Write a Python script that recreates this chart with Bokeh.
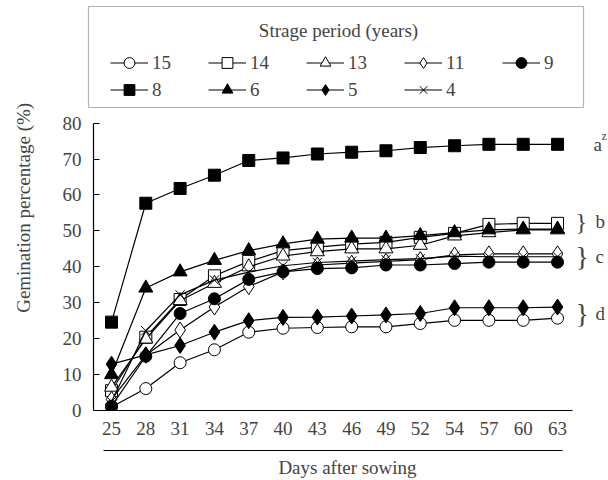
from bokeh.plotting import figure
from bokeh.models import (Legend, LegendItem, Label, BoxAnnotation, LinearAxis,
                          Range1d, FixedTicker)
from bokeh.embed import file_html
from bokeh.resources import INLINE

FONT = "Liberation Serif"

days = ["25", "28", "31", "34", "37", "40", "43", "46", "49", "52", "54", "57", "60", "63"]
y_ticks = [0, 10, 20, 30, 40, 50, 60, 70, 80]

s15 = [1.0, 6.1, 13.3, 16.9, 21.8, 22.9, 23.1, 23.3, 23.3, 24.2, 25.1, 25.1, 25.1, 25.7]
s14 = [5.5, 20.4, 30.9, 37.5, 41.5, 44.5, 45.5, 46.3, 46.8, 48.2, 49.3, 51.8, 52.1, 52.1]
s13 = [6.5, 19.9, 30.6, 35.4, 40.0, 43.0, 44.2, 45.0, 45.0, 46.0, 48.6, 49.5, 50.3, 50.3]
s11 = [3.1, 15.4, 22.4, 28.8, 34.5, 38.6, 40.5, 41.0, 41.5, 42.0, 43.3, 43.6, 43.6, 43.6]
s9 = [1.2, 15.1, 27.0, 31.1, 36.5, 38.6, 39.5, 39.7, 40.5, 40.5, 40.9, 41.3, 41.3, 41.3]
s8 = [24.6, 57.7, 61.8, 65.5, 69.6, 70.3, 71.4, 71.9, 72.3, 73.2, 73.7, 74.1, 74.1, 74.1]
s6 = [10.0, 34.1, 38.6, 41.8, 44.5, 46.4, 47.7, 48.0, 48.0, 48.7, 49.5, 50.3, 50.5, 50.5]
s5 = [12.9, 15.5, 18.1, 21.8, 25.0, 25.9, 26.0, 26.3, 26.6, 27.0, 28.6, 28.6, 28.6, 28.8]
s4 = [2.5, 22.2, 32.2, 36.3, 38.5, 40.3, 41.2, 41.6, 42.0, 42.3, 43.0, 42.8, 42.8, 42.8]

series_names = ["15", "14", "13", "11", "9", "8", "6", "5", "4"]
series_values = [s15, s14, s13, s11, s9, s8, s6, s5, s4]
markers = ["circle", "square", "triangle", "diamond", "circle", "square", "triangle", "diamond", "x"]
fills = ["white", "white", "white", "white", "black", "black", "black", "black", "black"]
sizes = [12, 12, 14, 16, 12, 12, 14, 16, 13]

group_labels = ["a", "b", "c", "d"]
group_y = [74.1, 52.5, 43.0, 27.0]

# positions of the day categories along the axis
xpos = list(range(len(days)))
X_AXIS_AT = -0.5246

p = figure(width=608, height=480,
           x_range=Range1d(-0.7287, 14.486),
           y_range=Range1d(0, 114.13),
           x_axis_type=None,
           output_backend="svg", toolbar_location=None,
           min_border_left=86, min_border_right=0, min_border_top=0, min_border_bottom=62)
p.outline_line_color = None
p.ygrid.grid_line_color = None

items = []
for name, vals, mk, fc, sz in zip(series_names, series_values, markers, fills, sizes):
    rl = p.line(xpos, vals, line_color="black", line_width=1.2)
    rs = p.scatter(xpos, vals, marker=mk, size=sz, fill_color=fc, line_color="black", line_width=1)
    items.append(LegendItem(label=name, renderers=[rl, rs]))

# x axis (tick labels)
xa = LinearAxis(ticker=FixedTicker(ticks=xpos),
                major_label_overrides={i: d for i, d in zip(xpos, days)},
                bounds=(X_AXIS_AT, 13.437))
xa.major_tick_out = 0
xa.major_tick_in = 0
xa.minor_tick_out = 0
xa.minor_tick_in = 0
xa.major_label_standoff = 11
xa.major_label_text_font = FONT
xa.major_label_text_font_size = "19px"
xa.axis_line_width = 1.2
xa.axis_label = " "
xa.axis_label_text_font_size = "8px"
xa.axis_label_standoff = 1
p.add_layout(xa, "below")

# second axis: underline + title
xa2 = LinearAxis(ticker=FixedTicker(ticks=[]), bounds=(-0.233, 13.145),
                 axis_label="Days after sowing")
xa2.major_tick_out = 0
xa2.major_tick_in = 0
xa2.minor_tick_out = 0
xa2.minor_tick_in = 0
xa2.major_label_standoff = 0
xa2.axis_label_standoff = 6
xa2.axis_label_text_font = FONT
xa2.axis_label_text_font_style = "normal"
xa2.axis_label_text_font_size = "19px"
xa2.axis_line_width = 1.2
p.add_layout(xa2, "below")

# y axis: tick labels and title
ya = p.yaxis[0]
ya.ticker = FixedTicker(ticks=y_ticks)
ya.axis_line_alpha = 0
ya.major_tick_in = 0
ya.major_tick_out = 0
ya.minor_tick_in = 0
ya.minor_tick_out = 0
ya.major_label_standoff = 5
ya.major_label_text_font = FONT
ya.major_label_text_font_size = "19px"
ya.axis_label = "Gemination percentage  (%)"
ya.axis_label_text_font = FONT
ya.axis_label_text_font_style = "normal"
ya.axis_label_text_font_size = "19px"
ya.axis_label_standoff = 26

# y axis line with inward ticks, at the first-category edge
ya2 = LinearAxis(ticker=FixedTicker(ticks=y_ticks), fixed_location=X_AXIS_AT, bounds=(0, 80),
                 major_label_overrides={t: "" for t in y_ticks})
ya2.major_tick_in = 6
ya2.major_tick_out = 0
ya2.minor_tick_in = 0
ya2.minor_tick_out = 0
ya2.major_label_standoff = 0
ya2.axis_line_width = 1.2
p.add_layout(ya2, "left")

# legend frame and title (screen units from the frame's bottom-left corner)
box = BoxAnnotation(left=2, right=497, bottom=303, top=404,
                    left_units="screen", right_units="screen",
                    bottom_units="screen", top_units="screen",
                    fill_alpha=0, line_color="black", line_width=1.2)
p.add_layout(box)
p.add_layout(Label(x=252, y=380, x_units="screen", y_units="screen",
                   text="Strage period (years)", text_align="center", text_baseline="middle",
                   text_font=FONT, text_font_size="19px"))

legend = Legend(items=items, ncols=5, orientation="horizontal", location=(24, 307),
                glyph_width=38, glyph_height=27, label_height=20, label_width=56,
                label_standoff=4, spacing=0, padding=0,
                border_line_alpha=0, background_fill_alpha=0,
                label_text_font=FONT, label_text_font_size="19px")
p.add_layout(legend, "center")

# group letters on the right
brace_sizes = ["24px", "24px", "28px", "28px"]
for i, (lab, gy) in enumerate(zip(group_labels, group_y)):
    p.add_layout(Label(x=507 if i == 0 else 509, y=gy, x_units="screen", y_units="data", text=lab,
                       text_align="left", text_baseline="middle",
                       text_font=FONT, text_font_size="19px"))
    if i > 0:
        p.add_layout(Label(x=489, y=gy, x_units="screen", y_units="data", text="}",
                           text_align="left", text_baseline="middle",
                           text_font=FONT, text_font_size=brace_sizes[i]))
p.add_layout(Label(x=515, y=group_y[0] + 2.2, x_units="screen", y_units="data", text="z",
                   text_align="left", text_baseline="middle",
                   text_font=FONT, text_font_size="12px"))

open("out.html", "w").write(file_html(p, INLINE))
